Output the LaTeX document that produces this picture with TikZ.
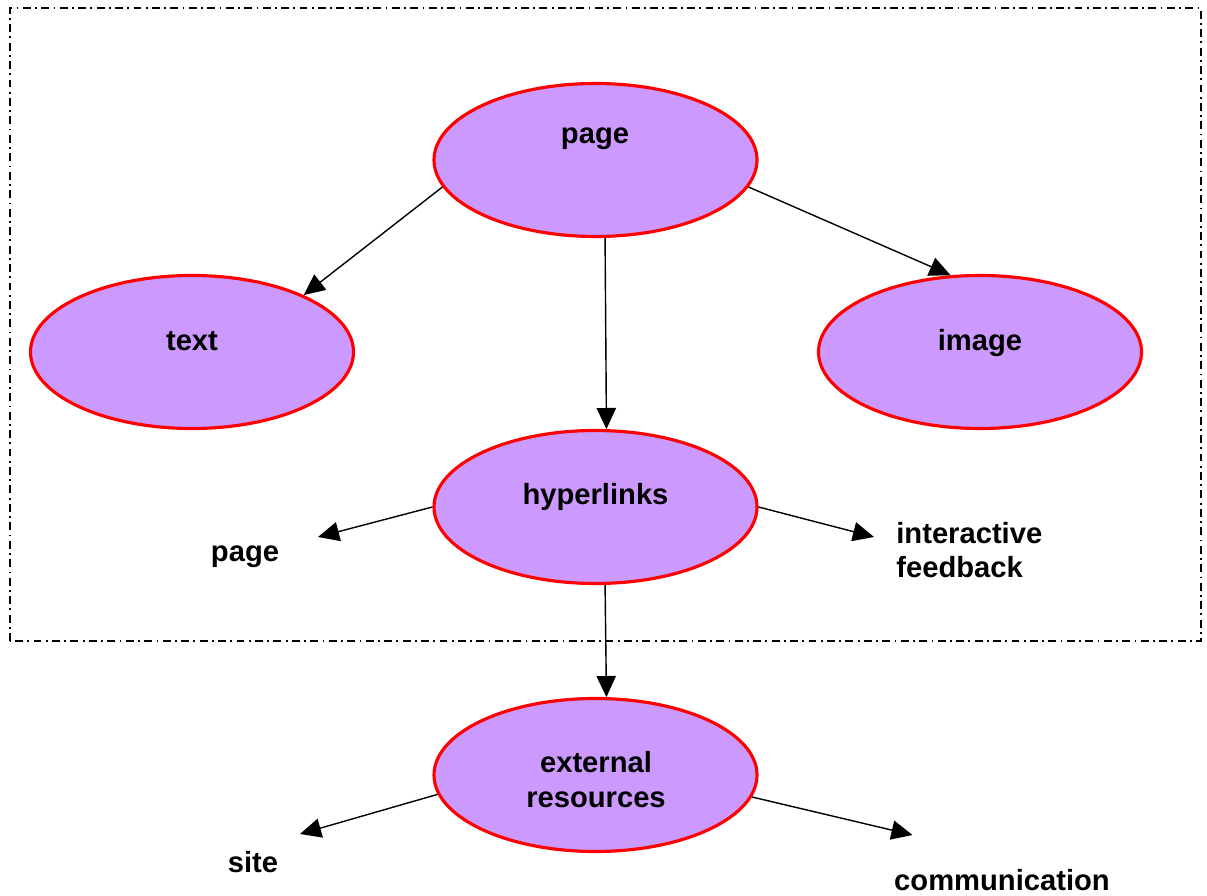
\documentclass[tikz,border=0pt]{standalone}
\usepackage{fontspec}
\setmainfont{Liberation Sans}
\usetikzlibrary{shapes.geometric,arrows.meta}
\definecolor{bubblefill}{HTML}{CC99FF}
\begin{document}
\begin{tikzpicture}[
	bubble/.style={ellipse, draw=red, line width=1.8pt, fill=bubblefill, inner sep=0pt, minimum width=6.46cm, minimum height=3.06cm},
	word/.style={inner sep=0pt, anchor=base, font=\fontsize{16.6}{19.5}\selectfont\bfseries},
	link/.style={line width=0.8pt, -{Triangle[length=12pt,width=11pt]}}
]
	\useasboundingbox (0,0) rectangle (24.14,17.9);
	\draw[line width=0.6pt, dash pattern=on 4.5pt off 2.5pt on 1pt off 2.5pt] (0.2,5.08) rectangle (24.02,17.74);
	\node[bubble] (page) at (11.91, 14.7) {};
	\node[bubble] (text) at (3.84, 10.86) {};
	\node[bubble] (image) at (19.6, 10.86) {};
	\node[bubble] (links) at (11.91, 7.76) {};
	\node[bubble] (ext) at (11.91, 2.4) {};
	\node[word] (pageword) at (11.9, 15.02) {page};
	\node[word] (textword) at (3.84, 10.88) {text};
	\node[word] (imageword) at (19.6, 10.88) {image};
	\node[word] (linksword) at (11.91, 7.8) {hyperlinks};
	\node[word, align=center] (extword) at (11.92, 1.76) {external\\resources};
	\node[word] (pagelabel) at (4.9, 6.66) {page};
	\node[word, anchor=base west, align=left] (feedlabel) at (17.92, 6.34) {interactive\\feedback};
	\node[word] (sitelabel) at (5.06, 0.46) {site};
	\node[word] (commlabel) at (20.04, 0.1) {communication};
	\coordinate (pagetip) at (6.36, 7.16);
	\coordinate (feedtip) at (17.48, 7.16);
	\coordinate (sitetip) at (6.0, 1.22);
	\coordinate (commtip) at (18.25, 1.2);
	 \draw[link] (page.190.3) -- (text.27.8);
	 \draw[link] (page.350.9) -- (image.111.3);
	 \draw[link] (page.277.5) -- (links.82.5);
	 \draw[link] (links.west) -- (pagetip);
	 \draw[link] (links.east) -- (feedtip);
	 \draw[link] (links.277.5) -- (ext.82.5);
	 \draw[link] (ext.187.7) -- (sitetip);
	 \draw[link] (ext.352.3) -- (commtip);
\end{tikzpicture}
\end{document}
